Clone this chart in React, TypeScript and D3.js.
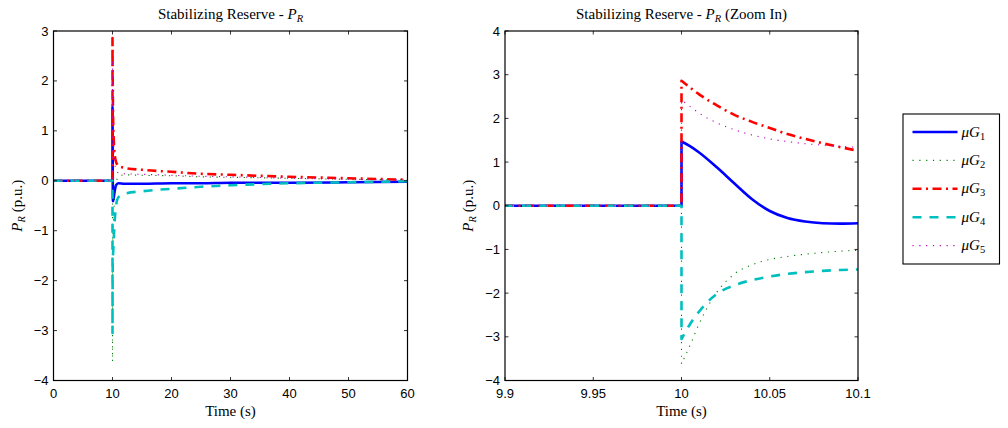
import React from "react";
import * as d3 from "d3";

// ---- data ----
const zoomTime = [9.9, 10, 10, 10.005, 10.01, 10.02, 10.03, 10.04, 10.05, 10.06, 10.07, 10.08, 10.09, 10.1];
const zoomG1 = [0, 0, 1.47, 1.36, 1.22, 0.88, 0.51, 0.15, -0.12, -0.28, -0.36, -0.40, -0.41, -0.40];
const zoomG2 = [0, 0, -3.62, -3.18, -2.70, -1.98, -1.56, -1.35, -1.23, -1.16, -1.11, -1.07, -1.04, -1.02];
const zoomG3 = [0, 0, 2.86, 2.70, 2.55, 2.30, 2.08, 1.92, 1.78, 1.64, 1.53, 1.43, 1.34, 1.26];
const zoomG4 = [0, 0, -3.05, -2.70, -2.42, -2.02, -1.82, -1.70, -1.62, -1.56, -1.52, -1.49, -1.47, -1.46];
const zoomG5 = [0, 0, 2.42, 2.27, 2.12, 1.90, 1.74, 1.62, 1.53, 1.47, 1.42, 1.39, 1.36, 1.34];

const longTime = [0, 10.2, 10.35, 10.6, 11, 12, 15, 20, 25, 30, 40, 50, 60];
const longG1 = [0, -0.34, -0.22, -0.09, -0.05, -0.06, -0.06, -0.05, -0.05, -0.04, -0.04, -0.03, -0.02];
const longG2 = [0, -0.70, -0.35, -0.05, 0.08, 0.12, 0.11, 0.10, 0.08, 0.07, 0.05, 0.03, 0.02];
const longG3 = [0, 0.85, 0.55, 0.38, 0.30, 0.26, 0.22, 0.18, 0.14, 0.12, 0.08, 0.05, 0.02];
const longG4 = [0, -1.20, -0.85, -0.50, -0.33, -0.26, -0.21, -0.16, -0.12, -0.09, -0.05, -0.03, -0.01];
const longG5 = [0, 0.80, 0.40, 0.22, 0.16, 0.14, 0.13, 0.11, 0.09, 0.08, 0.05, 0.03, 0.02];

const seriesNames = ["1", "2", "3", "4", "5"];
const leftXTicks = [0, 10, 20, 30, 40, 50, 60];
const leftYTicks = [-4, -3, -2, -1, 0, 1, 2, 3];
const rightXTicks = [9.9, 9.95, 10, 10.05, 10.1];
const rightXTickLabels = ["9.9", "9.95", "10", "10.05", "10.1"];
const rightYTicks = [-4, -3, -2, -1, 0, 1, 2, 3, 4];

const styles = [
  { color: "#0000ff", width: 2.6, dash: "" },
  { color: "#008000", width: 1.1, dash: "1.2 5.6" },
  { color: "#ff0000", width: 2.6, dash: "9 4.5 2 4.5" },
  { color: "#00bfbf", width: 2.6, dash: "9 8" },
  { color: "#bf00bf", width: 1.1, dash: "1.2 5.6" },
];

const zoomSeries = [zoomG1, zoomG2, zoomG3, zoomG4, zoomG5];
const longSeries = [longG1, longG2, longG3, longG4, longG5];

const SANS = "'Liberation Sans', Arial, sans-serif";
const SERIF = "'Liberation Serif', 'Times New Roman', serif";
const SERIF_SIZE = 15;
const SUB_SIZE = 10.5;

type Pt = [number, number];

function buildPath(
  pre: Pt[],
  post: Pt[],
  x: d3.ScaleLinear<number, number>,
  y: d3.ScaleLinear<number, number>
) {
  const lin = d3.line<Pt>().x((d) => x(d[0])).y((d) => y(d[1]));
  const smooth = d3
    .line<Pt>()
    .x((d) => x(d[0]))
    .y((d) => y(d[1]))
    .curve(d3.curveMonotoneX);
  const a = lin(pre) || "";
  const b = (smooth(post) || "").replace(/^M/, "L");
  return a + b;
}

function Axes(props: {
  id: string;
  x0: number;
  x1: number;
  y0: number;
  y1: number;
  xDomain: [number, number];
  yDomain: [number, number];
  xTicks: number[];
  xTickLabels: string[];
  yTicks: number[];
  title: React.ReactNode;
  paths: (x: d3.ScaleLinear<number, number>, y: d3.ScaleLinear<number, number>) => string[];
}) {
  const { id, x0, x1, y0, y1 } = props;
  const x = d3.scaleLinear().domain(props.xDomain).range([x0, x1]);
  const y = d3.scaleLinear().domain(props.yDomain).range([y1, y0]);
  const tl = 3.5;
  const paths = props.paths(x, y);
  const fmtY = (v: number) => (v < 0 ? "\u2212" + Math.abs(v) : String(v));
  return (
    <g>
      <defs>
        <clipPath id={id}>
          <rect x={x0} y={y0} width={x1 - x0} height={y1 - y0} />
        </clipPath>
      </defs>
      <rect x={x0} y={y0} width={x1 - x0} height={y1 - y0} fill="#fff" />
      <g clipPath={`url(#${id})`}>
        {paths.map((d, i) => (
          <path
            key={i}
            d={d}
            fill="none"
            stroke={styles[i].color}
            strokeWidth={styles[i].width}
            strokeDasharray={styles[i].dash || undefined}
            strokeLinejoin="round"
          />
        ))}
      </g>
      {props.xTicks.map((t, i) => (
        <g key={"xt" + i}>
          <line x1={x(t)} x2={x(t)} y1={y1} y2={y1 - tl} stroke="#000" strokeWidth={0.8} />
          <line x1={x(t)} x2={x(t)} y1={y0} y2={y0 + tl} stroke="#000" strokeWidth={0.8} />
          <text x={x(t)} y={398} textAnchor="middle" fontFamily={SANS} fontSize={13}>
            {props.xTickLabels[i]}
          </text>
        </g>
      ))}
      {props.yTicks.map((t, i) => (
        <g key={"yt" + i}>
          <line x1={x0} x2={x0 + tl} y1={y(t)} y2={y(t)} stroke="#000" strokeWidth={0.8} />
          <line x1={x1} x2={x1 - tl} y1={y(t)} y2={y(t)} stroke="#000" strokeWidth={0.8} />
          <text x={x0 - 5} y={y(t) + 4.5} textAnchor="end" fontFamily={SANS} fontSize={13}>
            {fmtY(t)}
          </text>
        </g>
      ))}
      <rect x={x0} y={y0} width={x1 - x0} height={y1 - y0} fill="none" stroke="#000" strokeWidth={1.2} />
      <text x={(x0 + x1) / 2} y={19} textAnchor="middle" fontFamily={SERIF} fontSize={SERIF_SIZE}>
        {props.title}
      </text>
      <text x={(x0 + x1) / 2} y={416} textAnchor="middle" fontFamily={SERIF} fontSize={SERIF_SIZE}>
        Time (s)
      </text>
      <text
        transform={`translate(${x0 - 32},${(y0 + y1) / 2}) rotate(-90)`}
        textAnchor="middle"
        fontFamily={SERIF}
        fontSize={SERIF_SIZE}
      >
        <tspan fontStyle="italic">P</tspan>
        <tspan fontStyle="italic" fontSize={SUB_SIZE} dy={3}>R</tspan>
        <tspan dy={-3}> (p.u.)</tspan>
      </text>
    </g>
  );
}

export default function App() {
  const titleLeft = (
    <>
      Stabilizing Reserve - <tspan fontStyle="italic">P</tspan>
      <tspan fontStyle="italic" fontSize={SUB_SIZE} dy={3}>R</tspan>
    </>
  );
  const titleRight = (
    <>
      Stabilizing Reserve - <tspan fontStyle="italic">P</tspan>
      <tspan fontStyle="italic" fontSize={SUB_SIZE} dy={3}>R</tspan>
      <tspan dy={-3}> (Zoom In)</tspan>
    </>
  );

  const leftPaths = (x: d3.ScaleLinear<number, number>, y: d3.ScaleLinear<number, number>) =>
    zoomSeries.map((zs, i) => {
      const pre: Pt[] = [
        [longTime[0], longSeries[i][0]],
        [zoomTime[1], zs[1]],
      ];
      const post: Pt[] = [];
      for (let k = 2; k < zoomTime.length; k++) post.push([zoomTime[k], zs[k]]);
      for (let k = 1; k < longTime.length; k++) post.push([longTime[k], longSeries[i][k]]);
      return buildPath(pre, post, x, y);
    });

  const rightPaths = (x: d3.ScaleLinear<number, number>, y: d3.ScaleLinear<number, number>) =>
    zoomSeries.map((zs) => {
      const pre: Pt[] = [
        [zoomTime[0], zs[0]],
        [zoomTime[1], zs[1]],
      ];
      const post: Pt[] = [];
      for (let k = 2; k < zoomTime.length; k++) post.push([zoomTime[k], zs[k]]);
      return buildPath(pre, post, x, y);
    });

  const legendX = 903;
  const legendY = 114;
  const rowY = (i: number) => legendY + 18 + i * 28.4;

  return (
    <svg width={1008} height={428} style={{ position: "absolute", left: 0, top: 0 }}>
      <rect width={1008} height={428} fill="#fff" />
      <Axes
        id="clipL"
        x0={53.5}
        x1={407.5}
        y0={31}
        y1={380.5}
        xDomain={[0, 60]}
        yDomain={[-4, 3]}
        xTicks={leftXTicks}
        xTickLabels={leftXTicks.map(String)}
        yTicks={leftYTicks}
        title={titleLeft}
        paths={leftPaths}
      />
      <Axes
        id="clipR"
        x0={505}
        x1={858}
        y0={31}
        y1={380.5}
        xDomain={[9.9, 10.1]}
        yDomain={[-4, 4]}
        xTicks={rightXTicks}
        xTickLabels={rightXTickLabels}
        yTicks={rightYTicks}
        title={titleRight}
        paths={rightPaths}
      />
      <rect x={legendX} y={legendY} width={96.5} height={150} fill="#fff" stroke="#000" strokeWidth={1.1} />
      {seriesNames.map((n, i) => (
        <g key={n}>
          <line
            x1={legendX + 9.5}
            x2={legendX + 54.5}
            y1={rowY(i)}
            y2={rowY(i)}
            stroke={styles[i].color}
            strokeWidth={styles[i].width}
            strokeDasharray={styles[i].dash || undefined}
          />
          <text x={legendX + 58.5} y={rowY(i) + 4.5} fontFamily={SERIF} fontSize={SERIF_SIZE}>
            <tspan fontStyle="italic">μG</tspan>
            <tspan fontSize={SUB_SIZE} dy={3}>{n}</tspan>
          </text>
        </g>
      ))}
    </svg>
  );
}
